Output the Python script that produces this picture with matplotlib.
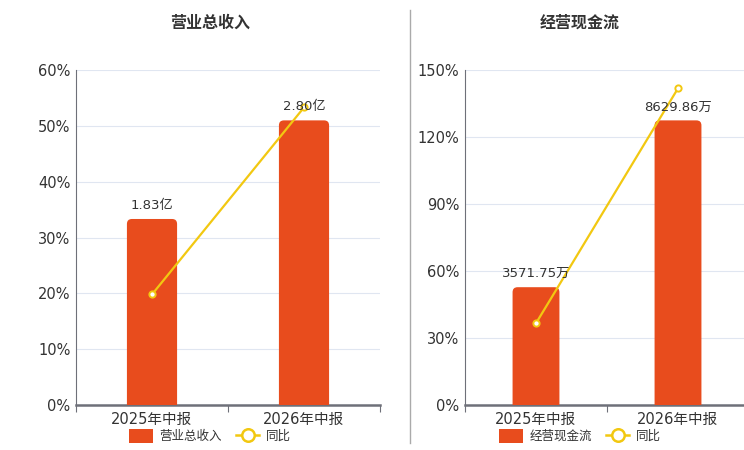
import matplotlib
matplotlib.use("Agg")
from matplotlib import pyplot as plt
from matplotlib.patches import FancyBboxPatch, Patch
from matplotlib.lines import Line2D
from matplotlib.ticker import FuncFormatter, MultipleLocator

plt.rcParams['font.family'] = ['DejaVu Sans', 'Noto Sans CJK SC']

categories = ['2025年中报', '2026年中报']

revenue = [1.83, 2.80]            # 亿
revenue_labels = ['1.83亿', '2.80亿']
revenue_yoy = [19.8, 53.3]        # %

cashflow = [3571.75, 8629.86]     # 万
cashflow_labels = ['3571.75万', '8629.86万']
cashflow_yoy = [36.6, 141.8]      # %

BAR_COLOR = '#E84C1D'
LINE_COLOR = '#F2C811'
TEXT_COLOR = '#333333'
AXIS_COLOR = '#6E7079'
GRID_COLOR = '#E0E6F1'

fig = plt.figure(figsize=(7.44, 4.5), dpi=100)


def panel(rect, title, title_x, values, labels, yoy, pct_max, pct_step, name):
    ax = fig.add_axes(rect)
    x = list(range(len(categories)))

    # percent axis (left), grid
    ax.set_xlim(-0.5, len(categories) - 0.5)
    ax.set_ylim(0, pct_max)
    ax.yaxis.set_major_locator(MultipleLocator(pct_step))
    ax.yaxis.set_major_formatter(FuncFormatter(lambda v, p: f'{v:.0f}%'))
    ax.grid(axis='y', color=GRID_COLOR, linewidth=0.8)
    ax.set_axisbelow(True)
    for s in ['top', 'right']:
        ax.spines[s].set_visible(False)
    ax.spines['left'].set_color(AXIS_COLOR)
    ax.spines['bottom'].set_color(AXIS_COLOR)
    ax.spines['bottom'].set_linewidth(1.8)
    ax.tick_params(axis='y', length=0, labelsize=10.5, labelcolor=TEXT_COLOR, pad=4)
    ax.set_xticks(x)
    ax.set_xticklabels(categories)
    ax.tick_params(axis='x', which='major', length=0, labelsize=10.5,
                   labelcolor=TEXT_COLOR, pad=5)
    ax.set_xticks([i - 0.5 for i in range(len(categories) + 1)], minor=True)
    ax.tick_params(axis='x', which='minor', length=5, color=AXIS_COLOR, width=0.8)

    # value axis for bars (hidden)
    ax2 = ax.twinx()
    ax2.set_ylim(0, max(values) * 1.177)
    ax2.axis('off')
    bars = ax2.bar(x, values, width=0.33, color=BAR_COLOR)

    # round top corners
    fig.canvas.draw()
    (x0, y0), (x1, y1) = ax2.transData.transform([(0, 0), (1, 1)])
    px_x = x1 - x0
    px_y = y1 - y0
    radius = 5.0 / px_x
    aspect = px_x / px_y
    for b in bars:
        b.set_visible(False)
        bx, bw, bh = b.get_x(), b.get_width(), b.get_height()
        r_y = radius * aspect
        fp = FancyBboxPatch((bx, -r_y * 2), bw, bh + r_y * 2,
                            boxstyle=f'round,pad=0,rounding_size={radius}',
                            mutation_aspect=aspect, facecolor=BAR_COLOR,
                            edgecolor='none', clip_on=True)
        ax2.add_patch(fp)
        fp.set_clip_box(ax2.bbox)

    for xi, v, lab in zip(x, values, labels):
        ax2.annotate(lab, (xi, v), xytext=(0, 5), textcoords='offset points',
                     ha='center', va='bottom', fontsize=9.5, color=TEXT_COLOR)

    # yoy line drawn on top, in percent coordinates
    ax2.plot(x, yoy, color=LINE_COLOR, linewidth=1.6, marker='o', markersize=4.5,
             markerfacecolor='white', markeredgecolor=LINE_COLOR,
             markeredgewidth=1.4, transform=ax.transData, clip_on=False)

    fig.text(title_x / 744, 1 - 23 / 450, title, ha='center', va='center',
             fontsize=11.5, fontweight='bold', color=TEXT_COLOR,
             family=['Noto Sans CJK SC', 'DejaVu Sans'])

    handles = [Patch(facecolor=BAR_COLOR, edgecolor='none'),
               Line2D([0], [0], color=LINE_COLOR, linewidth=1.8, marker='o',
                      markersize=9, markerfacecolor='white',
                      markeredgecolor=LINE_COLOR, markeredgewidth=1.8)]
    fig.legend(handles, [name, '同比'], loc='center',
               bbox_to_anchor=(title_x / 744, 14 / 450), ncol=2, frameon=False,
               handlelength=1.9, handleheight=1.3, handletextpad=0.5,
               columnspacing=1.1, borderpad=0,
               labelcolor=TEXT_COLOR,
               prop={'family': ['Noto Sans CJK SC', 'DejaVu Sans'], 'size': 9})
    return ax


panel([76 / 744, 45 / 450, 304 / 744, 335 / 450], '营业总收入', 210,
      revenue, revenue_labels, revenue_yoy, 60, 10, '营业总收入')
panel([465 / 744, 45 / 450, 284 / 744, 335 / 450], '经营现金流', 580,
      cashflow, cashflow_labels, cashflow_yoy, 150, 30, '经营现金流')

fig.add_artist(Line2D([410 / 744, 410 / 744], [1 - 10 / 450, 1 - 443 / 450],
                      color='#AAAAAA', linewidth=1))

fig.savefig('out.png', dpi=100)
